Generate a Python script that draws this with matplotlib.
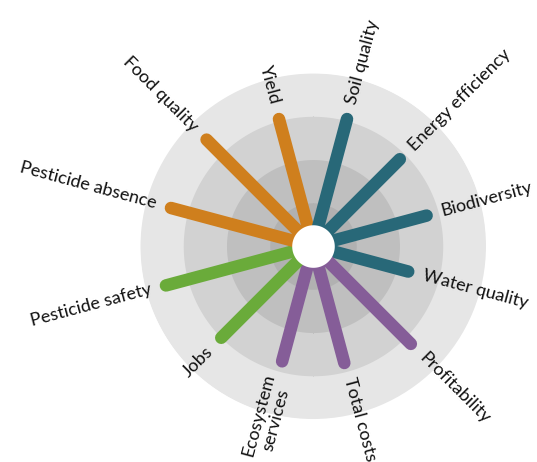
import numpy as np
import matplotlib
matplotlib.use("Agg")
import matplotlib.pyplot as plt

categories = ["Yield", "Soil quality", "Energy efficiency", "Biodiversity",
              "Water quality", "Profitability", "Total costs",
              "Ecosystem\nservices", "Jobs", "Pesticide safety",
              "Pesticide absence", "Food quality"]
values = [76, 76, 71, 68, 57, 80, 70, 69, 75, 88, 85, 87]
groups = ["prod", "env", "env", "env", "env", "econ", "econ", "econ",
          "soc", "soc", "prod", "prod"]
group_colors = {"prod": "#cf7f1d", "env": "#286878", "econ": "#855d98", "soc": "#6aab3a"}
ring_levels = [100, 75, 50, 25]
ring_colors = ["#e6e6e6", "#d2d2d2", "#bfbfbf", "#b1b1b1"]

plt.rcParams['font.family'] = ['Lato', 'DejaVu Sans']

fig = plt.figure(figsize=(5.37, 4.62), dpi=100)
ax = fig.add_axes([0.2607, 0.093, 0.6443, 0.7489], projection='polar')
ax.set_theta_zero_location('N')
ax.set_theta_direction(-1)
ax.set_ylim(0, 100)
ax.axis('off')

full = np.linspace(0, 2 * np.pi, 400)
for lvl, col in zip(ring_levels, ring_colors):
    ax.fill_between(full, 0, lvl, color=col, lw=0, zorder=1)

n = len(categories)
angles_deg = (-15 + 30 * np.arange(n)) % 360
angles = np.deg2rad(angles_deg)
for th, v, g in zip(angles, values, groups):
    ax.plot([th, th], [0, v], color=group_colors[g], lw=9,
            solid_capstyle='round', zorder=3)

ax.fill_between(full, 0, 12.3, color='white', lw=0, zorder=5)

for th, deg, v, lab in zip(angles, angles_deg, values, categories):
    math_ang = ((90 - deg) + 180) % 360 - 180   # ccw from east, in (-180, 180]
    if deg < 180:
        rot, ha = math_ang, 'left'
    else:
        rot, ha = ((math_ang - 180) + 180) % 360 - 180, 'right'
    ax.text(th, v + 9, lab, rotation=rot, rotation_mode='anchor',
            ha=ha, va='center', multialignment='center',
            fontsize=13, color='#111111', clip_on=False, zorder=6,
            linespacing=1.1)

fig.savefig("out.png", dpi=100)
